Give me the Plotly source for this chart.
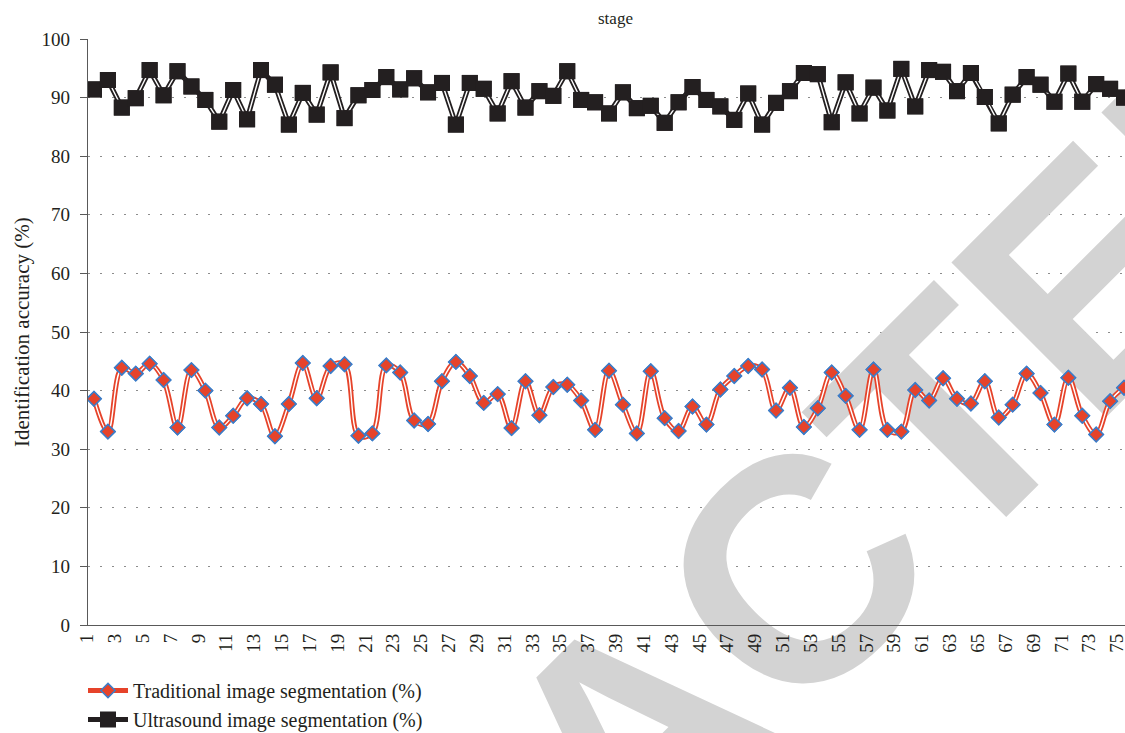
import plotly.graph_objects as go

# ---------------- data ----------------
categories = list(range(1, 76))
tick_values = list(range(1, 76, 2))
tick_labels = [str(v) for v in tick_values]
y_ticks = [0, 10, 20, 30, 40, 50, 60, 70, 80, 90, 100]

traditional = [
    38.6, 33.0, 43.9, 42.9, 44.6, 41.8, 33.7, 43.5, 40.0, 33.7,
    35.7, 38.7, 37.7, 32.2, 37.7, 44.7, 38.7, 44.2, 44.5, 32.3,
    32.7, 44.3, 43.1, 34.9, 34.3, 41.6, 44.9, 42.5, 37.9, 39.4,
    33.6, 41.6, 35.8, 40.6, 41.0, 38.3, 33.3, 43.4, 37.6, 32.7,
    43.3, 35.3, 33.1, 37.3, 34.2, 40.2, 42.5, 44.2, 43.6, 36.6,
    40.5, 33.8, 37.0, 43.1, 39.1, 33.3, 43.6, 33.3, 33.0, 40.1,
    38.3, 42.1, 38.6, 37.8, 41.6, 35.4, 37.6, 42.9, 39.6, 34.2,
    42.2, 35.7, 32.5, 38.2, 40.5,
]

ultrasound = [
    91.4, 93.0, 88.3, 89.9, 94.7, 90.4, 94.5, 91.9, 89.6, 85.9,
    91.3, 86.3, 94.7, 92.2, 85.4, 90.8, 87.1, 94.3, 86.5, 90.4,
    91.3, 93.5, 91.4, 93.3, 90.9, 92.5, 85.4, 92.5, 91.5, 87.3,
    92.8, 88.3, 91.1, 90.3, 94.5, 89.6, 89.2, 87.3, 90.9, 88.2,
    88.6, 85.7, 89.2, 91.8, 89.6, 88.5, 86.2, 90.7, 85.4, 89.1,
    91.1, 94.2, 94.0, 85.8, 92.6, 87.3, 91.7, 87.8, 94.9, 88.5,
    94.7, 94.4, 91.1, 94.2, 90.1, 85.6, 90.5, 93.5, 92.2, 89.3,
    94.1, 89.3, 92.3, 91.5, 90.0,
]

series_names = ["Traditional image segmentation (%)", "Ultrasound image segmentation (%)"]
axis_title = "Identification accuracy (%)"
chart_title = "stage"
watermark_text = "RETRACTED"

# ---------------- layout geometry ----------------
W, H = 1125, 733
ML, MR, MT, MB = 88, 0, 39, 108
X_RANGE = [0.57, 75.07]
Y_RANGE = [0, 100]
plot_w = W - ML - MR
plot_h = H - MT - MB

def px_to_x(px):
    return X_RANGE[0] + (px - ML) / plot_w * (X_RANGE[1] - X_RANGE[0])

def py_to_y(py):
    return Y_RANGE[1] - (py - MT) / plot_h * (Y_RANGE[1] - Y_RANGE[0])

SERIF = "Liberation Serif"
TEXT = "#231F20"
RED = "#E6432A"
BLUE = "#3B7DC9"
BLACK = "#231F20"
AXIS = "#595959"

fig = go.Figure()

# watermark (drawn first so that data marks sit above it)
wm_cx, wm_cy = px_to_x(632), py_to_y(735)
fig.add_trace(go.Bar(
    x=[wm_cx], y=[2 * (wm_cy + 60)], base=[-60], width=[0.4],
    text=[watermark_text], textposition="inside", insidetextanchor="middle",
    textangle=-45, constraintext="none", cliponaxis=False,
    marker=dict(color="rgba(0,0,0,0)", line=dict(width=0)),
    textfont=dict(family="Liberation Sans", size=318, color="#D3D3D3", weight="bold"),
    showlegend=False, hoverinfo="skip",
))

# Traditional: red double line, smoothed, diamond markers
fig.add_trace(go.Scatter(
    x=categories, y=traditional, mode="lines+markers", name=series_names[0],
    line=dict(color=RED, width=5, shape="spline", smoothing=1),
    marker=dict(symbol="diamond", size=11, color=RED, line=dict(color=BLUE, width=1.5)),
))
fig.add_trace(go.Scatter(
    x=categories, y=traditional, mode="lines", showlegend=False, hoverinfo="skip",
    line=dict(color="white", width=1.4, shape="spline", smoothing=1),
))
fig.add_trace(go.Scatter(
    x=categories, y=traditional, mode="markers", showlegend=False,
    marker=dict(symbol="diamond", size=11, color=RED, line=dict(color=BLUE, width=1.5)),
))

# Ultrasound: black double line, square markers
fig.add_trace(go.Scatter(
    x=categories, y=ultrasound, mode="lines+markers", name=series_names[1],
    line=dict(color=BLACK, width=5),
    marker=dict(symbol="square", size=16, color=BLACK, line=dict(width=0)),
))
fig.add_trace(go.Scatter(
    x=categories, y=ultrasound, mode="lines", showlegend=False, hoverinfo="skip",
    line=dict(color="white", width=1.4),
))
fig.add_trace(go.Scatter(
    x=categories, y=ultrasound, mode="markers", showlegend=False,
    marker=dict(symbol="square", size=16, color=BLACK, line=dict(width=0)),
))

fig.update_xaxes(
    range=X_RANGE, tickmode="array", tickvals=tick_values, ticktext=tick_labels,
    tickangle=-90, showgrid=False, zeroline=False, showline=True,
    linecolor=AXIS, linewidth=1.3, ticks="", ticklabeloverflow="allow",
    ticklabelshift=-7,
    tickfont=dict(family=SERIF, size=19, color=TEXT),
)
fig.update_yaxes(
    range=Y_RANGE, tickmode="array", tickvals=y_ticks,
    showgrid=True, gridcolor="#8C8C8C", gridwidth=1.3, griddash="2px,10px",
    zeroline=False, showline=True, linecolor=AXIS, linewidth=1.3,
    ticks="outside", ticklen=7, tickcolor=AXIS, tickwidth=1.3,
    ticklabelstandoff=6,
    tickfont=dict(family=SERIF, size=19, color=TEXT),
)

fig.update_layout(
    width=W, height=H,
    margin=dict(l=ML, r=MR, t=MT, b=MB, autoexpand=False),
    paper_bgcolor="white", plot_bgcolor="white",
    showlegend=True,
    legend=dict(
        x=(83 - ML) / plot_w, xanchor="left",
        y=(MT + plot_h - 671) / plot_h, yanchor="top",
        orientation="v", itemwidth=40, tracegroupgap=0,
        bgcolor="rgba(0,0,0,0)",
        font=dict(family=SERIF, size=20, color=TEXT),
    ),
    annotations=[
        dict(text=chart_title, xref="paper", yref="paper",
             x=(615 - ML) / plot_w, y=(MT + plot_h - 18) / plot_h,
             xanchor="center", yanchor="middle", showarrow=False,
             font=dict(family=SERIF, size=17, color=TEXT)),
        dict(text=axis_title, xref="paper", yref="paper",
             x=(22 - ML) / plot_w, y=0.5, textangle=-90,
             xanchor="center", yanchor="middle", showarrow=False,
             font=dict(family=SERIF, size=21, color=TEXT)),
    ],
)

fig.write_html(
    "out.html",
    config={"displayModeBar": False},
    post_script="document.body.style.margin='0';document.body.style.overflow='hidden';",
)
